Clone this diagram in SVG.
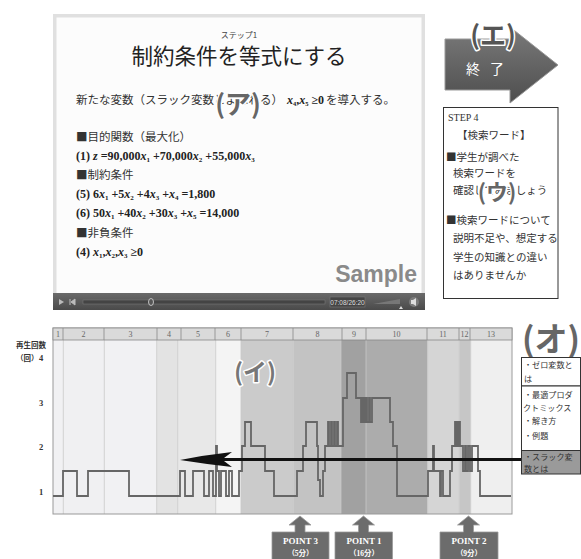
<svg xmlns="http://www.w3.org/2000/svg" width="581" height="559" viewBox="0 0 581 559">
<defs>
<linearGradient id="bar" x1="0" y1="0" x2="0" y2="1"><stop offset="0" stop-color="#6a6a6a"/><stop offset="1" stop-color="#4a4a4a"/></linearGradient>
<linearGradient id="arr" x1="0" y1="0" x2="0" y2="1"><stop offset="0" stop-color="#7a7a7a"/><stop offset="1" stop-color="#4e4e4e"/></linearGradient>
</defs>
<style>
.jp{font-family:"Noto Sans CJK JP","Noto Sans",sans-serif;}
.big{font-family:"Noto Sans CJK JP",sans-serif;font-weight:bold;paint-order:stroke;stroke:#fff;stroke-width:3;stroke-linejoin:round;}
.hd{font-family:"Liberation Serif",serif;font-size:8px;fill:#666;text-anchor:middle;}
.ax{font-family:"Liberation Serif",serif;font-size:8.5px;font-weight:bold;fill:#333;}
.cell{font-family:"Noto Sans CJK JP",sans-serif;font-size:8.1px;fill:#333;}
.step{font-family:"Noto Sans CJK JP",sans-serif;font-size:10.5px;fill:#333;}
.pt{font-family:"Liberation Serif",serif;font-size:9px;font-weight:bold;fill:#fff;text-anchor:middle;}
.ptm{font-family:"Liberation Serif","Noto Sans CJK JP",serif;font-size:7.5px;font-weight:bold;fill:#fff;text-anchor:middle;}
.math{font-family:"Liberation Serif",serif;font-size:12px;font-weight:bold;fill:#222;}
.body{font-family:"Noto Sans CJK JP",sans-serif;font-size:11.5px;fill:#333;}
.ptbox{fill:#6c6c6c;stroke:#9a9a9a;stroke-width:0.8;}
</style>

<g id="slide">
<rect x="53" y="14" width="372" height="296" fill="#e0e0e0"/>
<rect x="56.5" y="17.5" width="365" height="276" fill="#fcfcfc"/>
<text x="239" y="38" class="jp" font-size="8" fill="#444" text-anchor="middle">ステップ1</text>
<text x="239" y="64" class="jp" font-size="21.5" fill="#222" text-anchor="middle">制約条件を等式にする</text>
<text x="76" y="104" class="body">新たな変数（スラック変数とよばれる）</text>
<text x="287" y="104" class="math" font-size="11"><tspan font-style="italic">x</tspan><tspan font-size="6.5" dy="2">4</tspan><tspan dy="-2">,</tspan><tspan font-style="italic">x</tspan><tspan font-size="6.5" dy="2">5</tspan><tspan dy="-2"> ≥0</tspan></text>
<text x="326" y="104" class="body">を導入する。</text>
<text x="76" y="141" class="body">■目的関数（最大化）</text>
<text x="76" y="160" class="math">(1) <tspan font-style="italic">z</tspan> =90,000<tspan font-style="italic">x</tspan><tspan font-size="7" dy="2">1</tspan><tspan dy="-2"> +70,000</tspan><tspan font-style="italic">x</tspan><tspan font-size="7" dy="2">2</tspan><tspan dy="-2"> +55,000</tspan><tspan font-style="italic">x</tspan><tspan font-size="7" dy="2">3</tspan></text>
<text x="76" y="179" class="body">■制約条件</text>
<text x="76" y="198" class="math">(5) 6<tspan font-style="italic">x</tspan><tspan font-size="7" dy="2">1</tspan><tspan dy="-2"> +5</tspan><tspan font-style="italic">x</tspan><tspan font-size="7" dy="2">2</tspan><tspan dy="-2"> +4</tspan><tspan font-style="italic">x</tspan><tspan font-size="7" dy="2">3</tspan><tspan dy="-2"> +</tspan><tspan font-style="italic">x</tspan><tspan font-size="7" dy="2">4</tspan><tspan dy="-2"> =1,800</tspan></text>
<text x="76" y="217" class="math">(6) 50<tspan font-style="italic">x</tspan><tspan font-size="7" dy="2">1</tspan><tspan dy="-2"> +40</tspan><tspan font-style="italic">x</tspan><tspan font-size="7" dy="2">2</tspan><tspan dy="-2"> +30</tspan><tspan font-style="italic">x</tspan><tspan font-size="7" dy="2">3</tspan><tspan dy="-2"> +</tspan><tspan font-style="italic">x</tspan><tspan font-size="7" dy="2">5</tspan><tspan dy="-2"> =14,000</tspan></text>
<text x="76" y="237" class="body">■非負条件</text>
<text x="76" y="256" class="math">(4) <tspan font-style="italic">x</tspan><tspan font-size="7" dy="2">1</tspan><tspan dy="-2">,</tspan><tspan font-style="italic">x</tspan><tspan font-size="7" dy="2">2</tspan><tspan dy="-2">,</tspan><tspan font-style="italic">x</tspan><tspan font-size="7" dy="2">3</tspan><tspan dy="-2"> ≥0</tspan></text>
<text x="417" y="282" font-family="Liberation Sans,sans-serif" font-weight="bold" font-size="23" fill="#8a8a8a" text-anchor="end">Sample</text>
<text x="238" y="114" class="big" font-size="26" fill="#666" text-anchor="middle">(ア)</text>
<rect x="53" y="293" width="372" height="17" fill="url(#bar)"/>
<path d="M59,299 L64,302 L59,305 Z" fill="#bbb"/>
<path d="M70,299 V305 M71,302 L75,299 V305 Z" stroke="#bbb" stroke-width="1" fill="#bbb"/>
<rect x="83" y="300" width="242" height="4" fill="#444" stroke="#777" stroke-width="0.6"/>
<ellipse cx="151" cy="302" rx="2.5" ry="3.5" fill="#555" stroke="#ddd" stroke-width="0.8"/>
<rect x="330" y="297" width="35" height="10" fill="#454545" stroke="#777" stroke-width="0.6"/>
<text x="347.5" y="304.5" font-family="Liberation Sans,sans-serif" font-size="6.5" fill="#ddd" text-anchor="middle">07:08/26:20</text>
<path d="M373,304 L400,299 L400,304 Z" fill="#777"/>
<path d="M399,309 L401,306 L403,309 Z" fill="#ddd"/>
<circle cx="414" cy="302" r="5" fill="#7a7a7a"/>
<path d="M411,300 H413 L416,298 V306 L413,304 H411 Z" fill="#ddd"/>
</g>

<g id="end-arrow">
<path d="M445,39 H510 V27 L558,65 L510,103 V90 H445 Z" fill="url(#arr)" stroke="#999" stroke-width="1"/>
<text x="485" y="74" class="jp" font-size="14" fill="#fff" text-anchor="middle">終<tspan dx="10">了</tspan></text>
<text x="493" y="45" class="big" font-size="26" fill="#555" text-anchor="middle">(エ)</text>
</g>

<g id="step4">
<rect x="443.5" y="107.5" width="114.5" height="191" fill="#fff" stroke="#333" stroke-width="1"/>
<text x="448" y="121" font-family="Liberation Serif,serif" font-size="10" fill="#333">STEP 4</text>
<text x="457" y="139" class="step">【検索ワード】</text>
<text x="446" y="161" class="step">■学生が調べた</text>
<text x="453" y="177" class="step">検索ワードを</text>
<text x="453" y="194" class="step">確認してみましょう</text>
<text x="497" y="200" class="big" font-size="22" fill="#666" text-anchor="middle">(ウ)</text>
<text x="446" y="224" class="step">■検索ワードについて</text>
<text x="453" y="242" class="step">説明不足や、想定する</text>
<text x="453" y="261" class="step">学生の知識との違い</text>
<text x="453" y="279" class="step">はありませんか</text>
</g>

<g id="chart">
<rect x="53" y="340" width="10.3" height="174" fill="#f1f1f3"/>
<rect x="63.3" y="340" width="41" height="174" fill="#f0f0f2"/>
<rect x="104.3" y="340" width="52.4" height="174" fill="#f1f1f3"/>
<rect x="156.7" y="340" width="21" height="174" fill="#e3e3e3"/>
<rect x="177.7" y="340" width="38" height="174" fill="#e8e8e8"/>
<rect x="215.7" y="340" width="25.3" height="174" fill="#f4f4f4"/>
<rect x="241" y="340" width="52.3" height="174" fill="#cbcbcb"/>
<rect x="293.3" y="340" width="47.7" height="174" fill="#c3c3c3"/>
<rect x="341" y="340" width="25" height="174" fill="#a1a1a1"/>
<rect x="366" y="340" width="61.7" height="174" fill="#acacac"/>
<rect x="427.7" y="340" width="31.6" height="174" fill="#d5d5d5"/>
<rect x="459.3" y="340" width="11.4" height="174" fill="#c6c6c6"/>
<rect x="470.7" y="340" width="41" height="174" fill="#efefef"/>
<path d="M63.3,340V514M104.3,340V514M156.7,340V514M177.7,340V514M215.7,340V514M241,340V514M293.3,340V514M341,340V514M366,340V514M427.7,340V514M459.3,340V514M470.7,340V514" stroke="#c8c8c8" stroke-width="0.8" fill="none"/>
<rect x="53" y="328" width="459" height="186" fill="none" stroke="#999" stroke-width="1"/>
<rect x="53" y="328" width="459" height="12" fill="#dadada" stroke="#888" stroke-width="0.8"/>
<path d="M63,328V340M104,328V340M157,328V340M181,328V340M215,328V340M241,328V340M293,328V340M342,328V340M366,328V340M427,328V340M459,328V340M470,328V340" stroke="#888" stroke-width="0.8"/>
<text class="hd" x="58" y="337">1</text><text class="hd" x="83.5" y="337">2</text><text class="hd" x="130.5" y="337">3</text><text class="hd" x="169" y="337">4</text><text class="hd" x="198" y="337">5</text><text class="hd" x="228" y="337">6</text><text class="hd" x="267" y="337">7</text><text class="hd" x="317.5" y="337">8</text><text class="hd" x="354" y="337">9</text><text class="hd" x="396.5" y="337">10</text><text class="hd" x="443" y="337">11</text><text class="hd" x="464.5" y="337">12</text><text class="hd" x="491" y="337">13</text>
<text x="16" y="348" class="jp" font-size="7.5" font-weight="bold" fill="#333">再生回数</text>
<text x="16" y="361" class="jp" font-size="7.5" font-weight="bold" fill="#333">（回）</text>
<text class="ax" x="39" y="361">4</text>
<text class="ax" x="39" y="406">3</text>
<text class="ax" x="39" y="450">2</text>
<text class="ax" x="39" y="495">1</text>
<path d="M53,496 H63 V471 H77 V496 H88 V471 H129 V496 H180 V471 H185 V496 H193 V471 H204 V496 H209 V471 H213 V496 H216 V446 H217 V471 H219 V496 H221 V471 H226 V496 H229 V471 H232 V496 H239 V471 H242 V446 H245 V422 H251 V446 H265 V471 H274 V496 H297 V471 H303 V446 H306 V422 H317 V446 H318 V480 H320 V496 H323 V471 H325 V446 H328 V422 H329 V446 H331 V422 H332 V446 H334 V422 H335 V446 H337 V422 H338 V446 H343 V398 H347 V373 H356 V398 H361 V422 H362 V398 H363 V422 H364 V398 H365 V422 H366 V398 H367 V422 H369 V398 H370 V422 H372 V398 H390 V422 H393 V446 H397 V496 H428 V471 H433 V446 H434 V471 H440 V496 H441 V471 H443 V496 H450 V471 H452 V446 H455 V422 H456 V446 H457 V422 H458 V446 H459 V422 H460 V446 H463 V471 H465 V446 H466 V471 H468 V446 H470 V471 H472 V446 H478 V471 H480 V496 H511" fill="none" stroke="#666" stroke-width="1.8"/>
<text x="255" y="381" class="big" font-size="24" fill="#777" stroke-width="0" text-anchor="middle">(イ)</text>
</g>

<g id="topics">
<text x="551" y="351" class="big" font-size="33" fill="#666" stroke-width="0" text-anchor="middle">(オ)</text>
<rect x="521.5" y="357.5" width="59" height="28.5" fill="#fff" stroke="#333" stroke-width="1"/>
<rect x="521.5" y="386" width="59" height="64.5" fill="#fff" stroke="#333" stroke-width="1"/>
<rect x="521.5" y="450.5" width="59" height="23.5" fill="#9a9a9a" stroke="#333" stroke-width="1"/>
<text class="cell" x="524" y="367.5">・ゼロ変数と</text>
<text class="cell" x="524" y="382">は</text>
<text class="cell" x="524" y="397.5">・最適プロダ</text>
<text class="cell" x="523" y="411">クトミックス</text>
<text class="cell" x="524" y="424">・解き方</text>
<text class="cell" x="524" y="438.5">・例題</text>
<text class="cell" x="524" y="460" fill="#222">・スラック変</text>
<text class="cell" x="524" y="471.5" fill="#222">数とは</text>
</g>

<g id="point3">
<path class="ptbox" d="M300,516 L311,525 H305 V532 H329 V560 H272 V532 H295 V525 H289 Z"/>
<text class="pt" x="300.5" y="544">POINT 3</text>
<text class="ptm" x="300.5" y="556">（5分）</text>
</g>
<g id="point1">
<path class="ptbox" d="M363.5,516 L374.5,525 H368.5 V532 H392.5 V560 H335 V532 H358.5 V525 H352.5 Z"/>
<text class="pt" x="364" y="544">POINT 1</text>
<text class="ptm" x="364" y="556">（16分）</text>
</g>
<g id="point2">
<path class="ptbox" d="M468.5,516 L479.5,525 H473.5 V532 H498 V560 H440 V532 H463.5 V525 H457.5 Z"/>
<text class="pt" x="469" y="544">POINT 2</text>
<text class="ptm" x="469" y="556">（9分）</text>
</g>

<g id="connectors">
<path d="M222,459.5 H521" stroke="#111" stroke-width="3" fill="none"/>
<path d="M180,460 Q205,455 232,452 L222,459.5 L232,467 Q205,464 180,460 Z" fill="#111"/>
</g>
</svg>
